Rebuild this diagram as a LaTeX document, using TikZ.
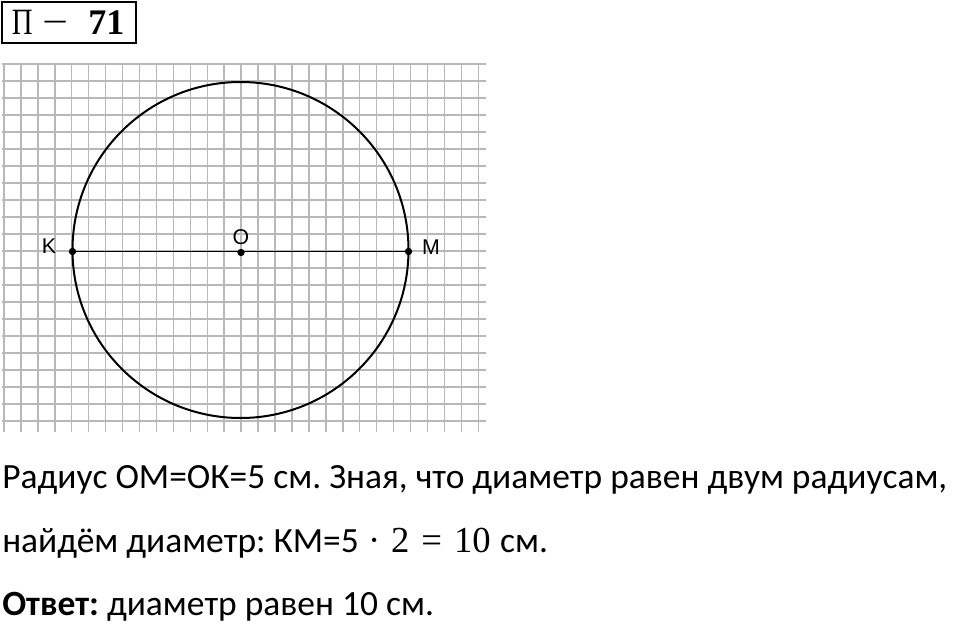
\documentclass[tikz,border=0pt]{standalone}
\usepackage[no-math]{fontspec}
\setmainfont{Carlito}
\newfontfamily\hdrfont{Liberation Serif}
\newfontfamily\lblfont{Liberation Sans}
\newfontfamily\mathlike{Liberation Serif}
\frenchspacing
\begin{document}
\begin{tikzpicture}[x=0.75pt,y=-0.75pt,
  gridline/.style={draw=black!28, line width=1.1pt},
  hdrbox/.style={draw=black, line width=2.2pt},
  circ/.style={draw=black, line width=1.5pt},
  diam/.style={draw=black, line width=0.9pt},
  dotpt/.style={circle, fill=black, inner sep=0pt, minimum size=5.5pt},
  ptlabel/.style={font=\lblfont\fontsize{16}{19}\selectfont, inner sep=0pt},
  bodytext/.style={font=\fontsize{26.6}{31}\selectfont, anchor=base west, inner sep=0pt}]
\useasboundingbox (0,0) rectangle (960,624);
% grid
\foreach \k in {0,...,28} {
  \draw[gridline] ({4+16.94*\k},63) -- ({4+16.94*\k},432);
}
\foreach \j in {0,...,21} {
  \draw[gridline] (2,{64+16.99*\j}) -- (486,{64+16.99*\j});
}
% header
\draw[hdrbox] (2,2) rectangle (136,43);
\node[font=\hdrfont\fontsize{27}{30}\selectfont, anchor=base west, inner sep=0pt] (hdr) at (10,35)
  {\makebox[18pt][c]{\scalebox{0.8}[1.03]{П}}\makebox[31.5pt][c]{\raisebox{3pt}{\scalebox{1.15}[1]{–}}}\hspace{9pt}\textbf{71}};
% circle and diameter
\coordinate (C) at (240.5,250);
\draw[circ] (C) circle[radius=168];
\node[dotpt] (K) at (72.5,251.5) {};
\node[dotpt] (O) at (241,252.5) {};
\node[dotpt] (M) at (408.5,251.5) {};
\draw[diam] (K.center) -- (M.center);
\node[ptlabel] (lK) at (49,246) {K};
\node[ptlabel] (lO) at (241,237) {O};
\node[ptlabel] (lM) at (431,247) {M};
% text
\node[bodytext] (t1) at (2,488) {Радиус ОМ=ОК=5 см. Зная, что диаметр равен двум радиусам,};
\node[bodytext] (t2) at (2,552) {найдём диаметр: КМ=5{\mathlike\fontsize{27.5}{31}\selectfont\hspace{7pt}·\hspace{8pt}2\hspace{9pt}=\hspace{9pt}10}\hspace{1pt} см.};
\node[bodytext] (t3) at (2,615) {\textbf{Ответ:} диаметр равен 10 см.};
\end{tikzpicture}
\end{document}
